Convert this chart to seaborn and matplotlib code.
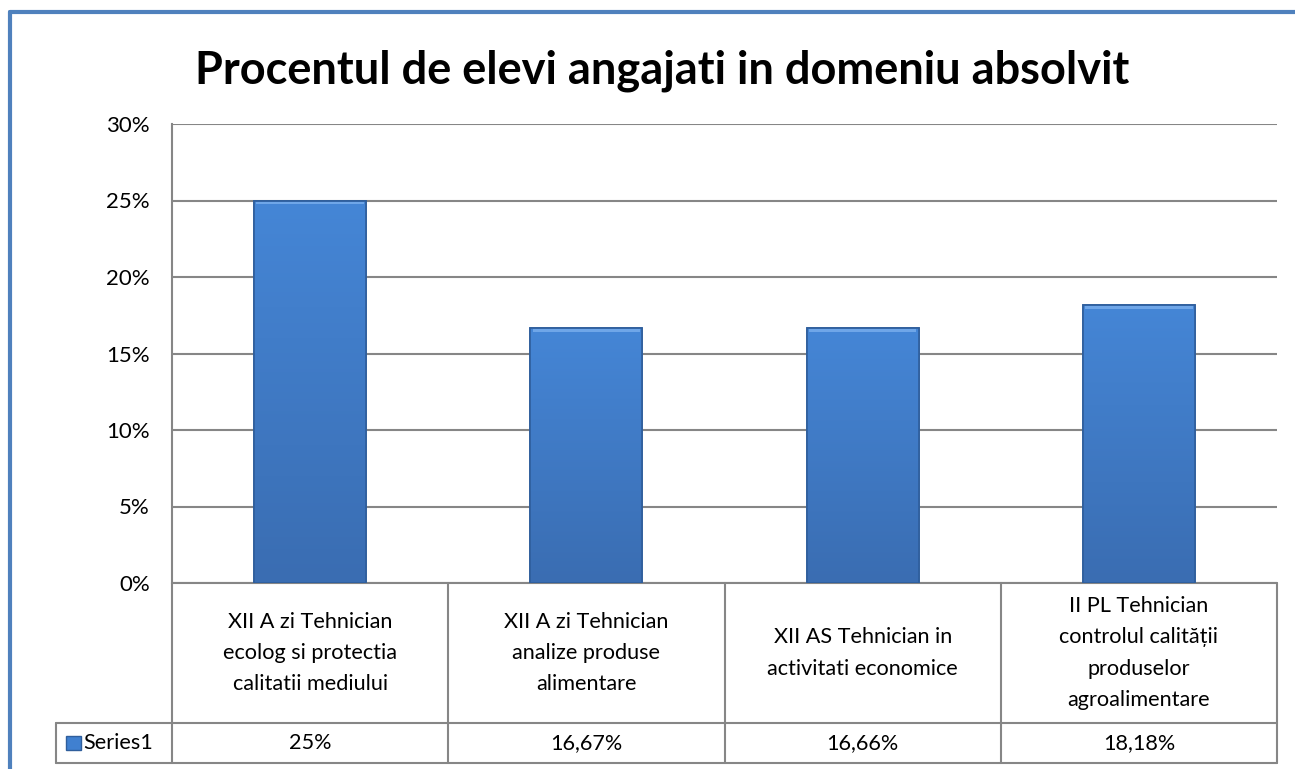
import matplotlib
matplotlib.use("Agg")
import matplotlib.pyplot as plt
import matplotlib.transforms as mtransforms
from matplotlib.patches import Rectangle
import numpy as np
import pandas as pd
import seaborn as sns

# date
titlu = "Procentul de elevi angajati in domeniu absolvit"
categorii = [
    "XII A zi Tehnician\necolog si protectia\ncalitatii mediului",
    "XII A zi Tehnician\nanalize produse\nalimentare",
    "XII AS Tehnician in\nactivitati economice",
    "II PL Tehnician\ncontrolul calității\nproduselor\nagroalimentare",
]
valori = [0.25, 0.1667, 0.1666, 0.1818]
etichete_valori = ["25%", "16,67%", "16,66%", "18,18%"]
serie = "Series1"
yticks = [0, 0.05, 0.10, 0.15, 0.20, 0.25, 0.30]

sns.set_theme(style="white")
plt.rcParams["font.family"] = ["Lato", "DejaVu Sans"]
plt.rcParams["text.color"] = "black"

df = pd.DataFrame({"cat": categorii, "val": valori})

fig = plt.figure(figsize=(12.95, 7.69), dpi=100)
ax = fig.add_axes([172 / 1295, 1 - 583 / 769, 1105 / 1295, 459 / 769])

sns.barplot(data=df, x="cat", y="val", ax=ax, width=0.405, color="#4080D0",
            edgecolor="#2F5E9C", linewidth=1.2, zorder=3)

# gradient pe bare
grad = np.linspace(0, 1, 100).reshape(-1, 1)
cmap = matplotlib.colors.LinearSegmentedColormap.from_list("b", ["#3A6DB2", "#4586D6"])
for p in ax.patches:
    x0, y0 = p.get_x(), p.get_y()
    w, h = p.get_width(), p.get_height()
    im = ax.imshow(grad, cmap=cmap, origin="lower", aspect="auto",
                   extent=[x0, x0 + w, y0, y0 + h], zorder=3.5)
    im.set_clip_path(p)
    ax.add_patch(Rectangle((x0, y0), w, h, fill=False, edgecolor="#2F5E9C",
                           linewidth=1.2, zorder=4))
    # bordura mai deschisa sus
    ax.add_patch(Rectangle((x0 + w * 0.02, y0 + h - 0.0025), w * 0.96, 0.0018,
                           color="#6FA6E8", linewidth=0, zorder=4))

ax.set_xlim(-0.5, 3.5)
ax.set_ylim(0, 0.30)
ax.set_yticks(yticks)
ax.set_yticklabels([f"{int(round(t * 100))}%" for t in yticks], fontsize=16)
ax.tick_params(axis="y", length=0, pad=16, colors="black")
ax.set_xticks([])
ax.set_xlabel("")
ax.set_ylabel("")
ax.yaxis.grid(True, color="#868686", linewidth=1.5, zorder=0)
ax.set_axisbelow(True)
for s in ["top", "right", "bottom"]:
    ax.spines[s].set_visible(False)
ax.spines["left"].set_color("#868686")
ax.spines["left"].set_linewidth(1.5)

# tabel de date sub grafic
tr = mtransforms.blended_transform_factory(ax.transData, ax.transAxes)
lc = "#868686"
y_cat = -140 / 459
y_ser = -180 / 459
x_lbl = -0.5 - 116 / 276.25
kw = dict(color=lc, linewidth=1.5, transform=tr, clip_on=False)
ax.plot([-0.5, 3.5], [0, 0], **kw)
ax.plot([x_lbl, 3.5], [y_cat, y_cat], **kw)
ax.plot([x_lbl, 3.5], [y_ser, y_ser], **kw)
ax.plot([x_lbl, x_lbl], [y_cat, y_ser], **kw)
for i in range(len(categorii) + 1):
    ax.plot([i - 0.5, i - 0.5], [0, y_ser], **kw)
for i, (c, v) in enumerate(zip(categorii, etichete_valori)):
    ax.text(i, y_cat / 2, c, transform=tr, ha="center", va="center",
            fontsize=15.6, linespacing=1.7)
    ax.text(i, (y_cat + y_ser) / 2, v, transform=tr, ha="center", va="center",
            fontsize=15.6)
ax.text(x_lbl + 0.1, (y_cat + y_ser) / 2, serie, transform=tr, ha="left",
        va="center", fontsize=15.6)
ax.add_patch(Rectangle((x_lbl + 0.036, (y_cat + y_ser) / 2 - 0.016), 0.054, 0.032,
                       transform=tr, clip_on=False, facecolor="#4080D0",
                       edgecolor="#2F5E9C", linewidth=1))

fig.text(662 / 1295, 1 - 71 / 769, titlu, ha="center", va="center",
         fontsize=32.5, fontweight="bold")

# chenar albastru
fig.add_artist(plt.Line2D([10 / 1295, 1], [1 - 12 / 769, 1 - 12 / 769],
                          color="#4F81BD", linewidth=3, transform=fig.transFigure))
fig.add_artist(plt.Line2D([10 / 1295, 10 / 1295], [0, 1 - 12 / 769],
                          color="#4F81BD", linewidth=3, transform=fig.transFigure))

fig.savefig("out.png", dpi=100)
